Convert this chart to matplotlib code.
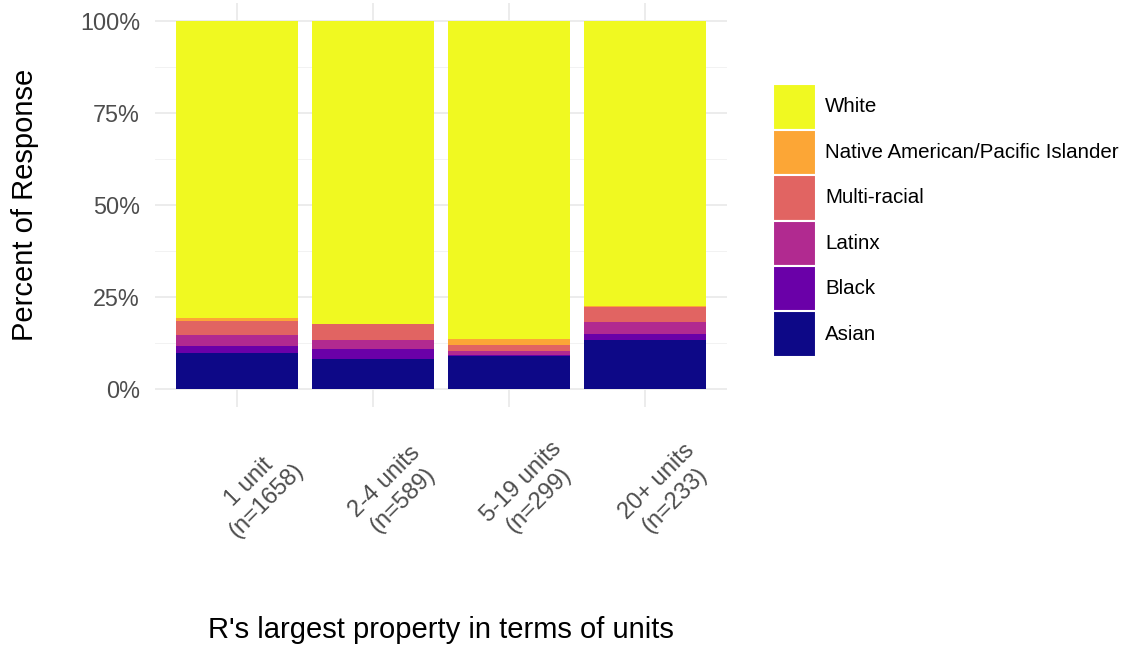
import matplotlib

matplotlib.use("Agg")
import matplotlib.pyplot as plt
import matplotlib.transforms as mtransforms
import numpy as np
from matplotlib.patches import Rectangle
from matplotlib.ticker import FixedLocator, PercentFormatter

plt.rcParams["font.family"] = ["Liberation Sans", "DejaVu Sans"]

# data: share of respondents by race within each property-size group
categories = ["1 unit\n(n=1658)", "2-4 units\n(n=589)", "5-19 units\n(n=299)", "20+ units\n(n=233)"]
groups = ["Asian", "Black", "Latinx", "Multi-racial", "Native American/Pacific Islander", "White"]
asian = [9.7, 8.2, 8.8, 13.3]
black = [1.8, 2.6, 0.4, 1.7]
latinx = [3.0, 2.4, 1.0, 3.2]
multi = [3.8, 4.3, 1.8, 3.9]
native = [1.0, 0.2, 1.5, 0.4]
white = [80.7, 82.3, 86.5, 77.5]
colors = ["#0D0887", "#6A00A8", "#B12A90", "#E16462", "#FCA636", "#F0F921"]

series = [asian, black, latinx, multi, native, white]

W, H = 1129, 652
fig = plt.figure(figsize=(W / 100, H / 100), dpi=100)
ax = fig.add_axes([155.4 / W, 1 - 407 / H, 571.2 / W, 404 / H])

x = np.arange(len(categories))
bottom = np.zeros(len(categories))
for vals, col in zip(series, colors):
    v = np.array(vals) / np.sum(series, axis=0)
    ax.bar(x, v, bottom=bottom, width=0.9, color=col, zorder=2, linewidth=0)
    bottom += v

ax.set_xlim(-0.6, len(categories) - 0.4)
ax.set_ylim(-0.05, 1.05)
ax.yaxis.set_major_locator(FixedLocator([0, 0.25, 0.5, 0.75, 1.0]))
ax.yaxis.set_minor_locator(FixedLocator([0.125, 0.375, 0.625, 0.875]))
ax.yaxis.set_major_formatter(PercentFormatter(1.0, decimals=0))
ax.grid(True, which="major", color="#EBEBEB", linewidth=1.3, zorder=0)
ax.grid(True, which="minor", axis="y", color="#F2F2F2", linewidth=0.7, zorder=0)
for s in ax.spines.values():
    s.set_visible(False)
ax.tick_params(axis="both", which="both", length=0)
ax.tick_params(axis="y", labelsize=16.8, labelcolor="#4D4D4D", pad=11)

ax.set_xticks(x)
ax.set_xticklabels([])
# rotated two-line category labels, placed below the panel
trans = mtransforms.blended_transform_factory(ax.transData, fig.transFigure)
shift = mtransforms.ScaledTranslation(21 / 100, 0, fig.dpi_scale_trans)
for xi, lab in zip(x, categories):
    ax.text(xi, 1 - 491 / H, lab, transform=trans + shift, rotation=45,
            ha="center", va="center", rotation_mode="anchor",
            multialignment="center", fontsize=17, color="#4D4D4D",
            linespacing=1.2)

fig.text(25 / W, 1 - 205 / H, "Percent of Response", rotation=90,
         ha="center", va="center", fontsize=21, color="black")
fig.text(441 / W, 1 - 630 / H, "R's largest property in terms of units",
         ha="center", va="center", fontsize=21, color="black")

# legend, top entry = last stacked series
key_h = 45.5
top = 84
for i, (name, col) in enumerate(zip(groups[::-1], colors[::-1])):
    y0 = top + i * key_h
    fig.patches.append(Rectangle((773 / W, 1 - (y0 + key_h) / H), 43 / W, key_h / H,
                                 transform=fig.transFigure, facecolor=col,
                                 edgecolor="white", linewidth=1.5))
    fig.text(825 / W, 1 - (y0 + key_h / 2) / H, name, ha="left", va="center",
             fontsize=14.8, color="black")

fig.savefig("out.png", dpi=100)
